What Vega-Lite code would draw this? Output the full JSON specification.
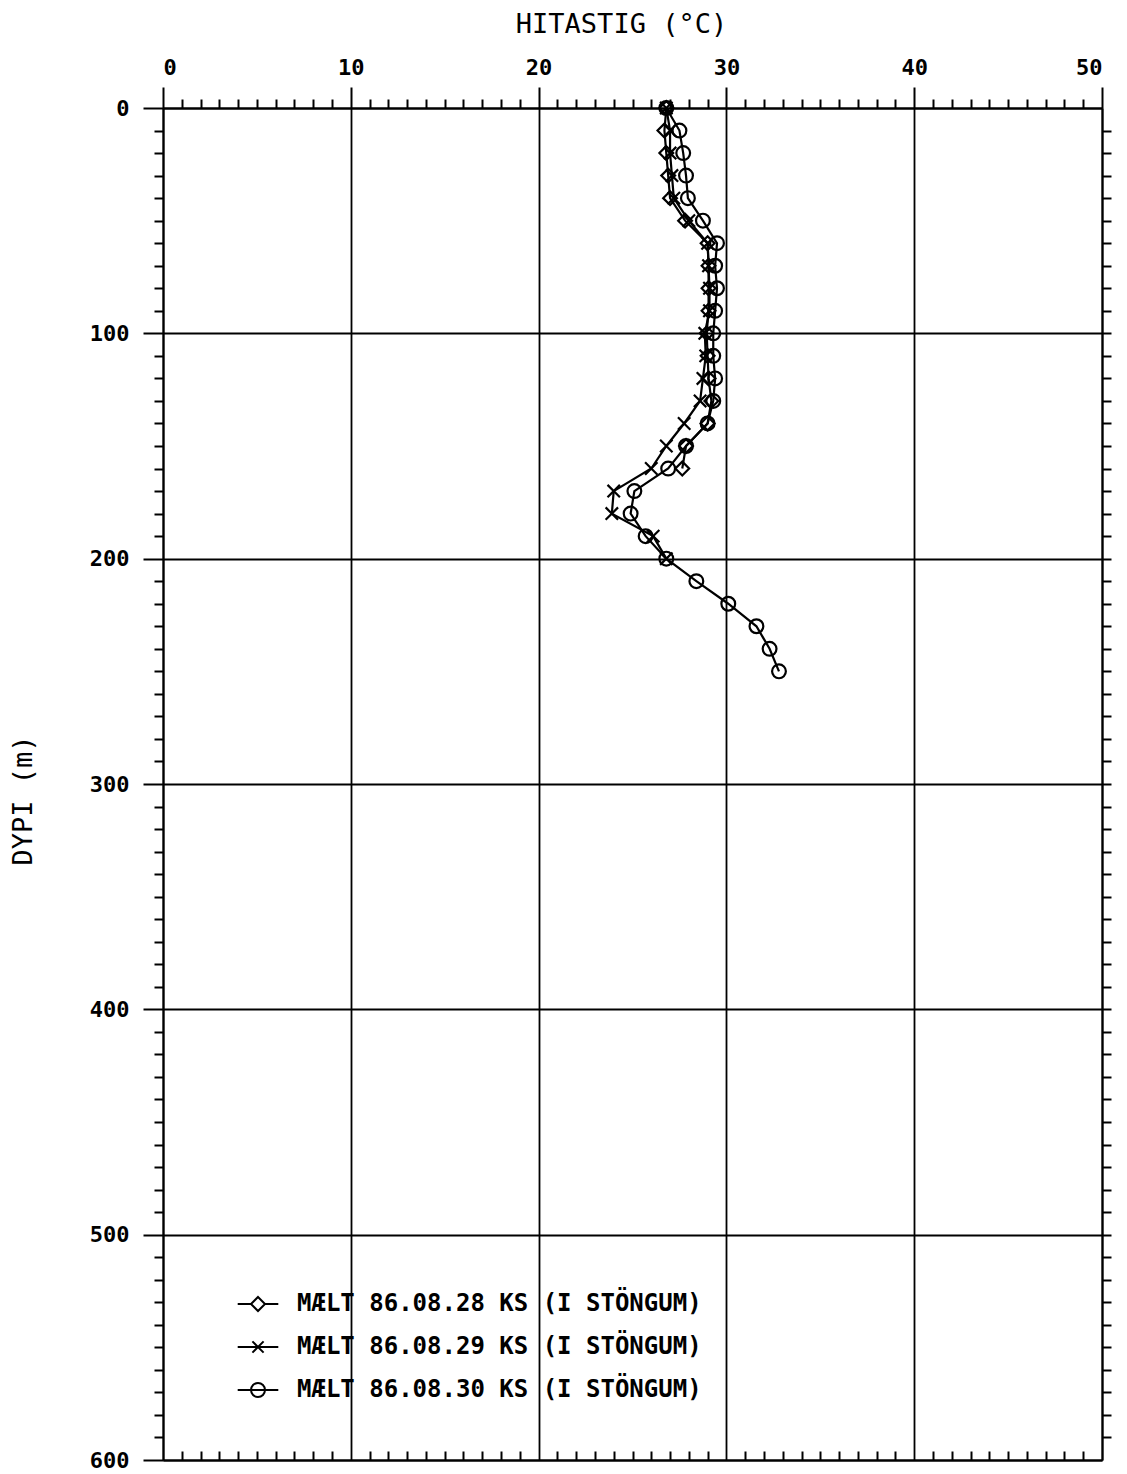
{
  "$schema": "https://vega.github.io/schema/vega-lite/v6.json",
  "width": 939,
  "height": 1352,
  "autosize": {"type": "none"},
  "padding": {"left": 163, "top": 108, "right": 25, "bottom": 14},
  "background": "white",
  "config": {
    "view": {"stroke": null},
    "axis": {"domainColor": "black", "tickColor": "black", "gridColor": "black", "labelColor": "black", "titleColor": "black", "domainWidth": 2, "tickWidth": 2, "gridWidth": 1.8, "gridOpacity": 1}
  },
  "data": {
    "values": [
      {"series": "MÆLT 86.08.28 KS (I STÖNGUM)", "depth": 0, "temp": 26.8},
      {"series": "MÆLT 86.08.28 KS (I STÖNGUM)", "depth": 10, "temp": 26.7},
      {"series": "MÆLT 86.08.28 KS (I STÖNGUM)", "depth": 20, "temp": 26.8},
      {"series": "MÆLT 86.08.28 KS (I STÖNGUM)", "depth": 30, "temp": 26.9},
      {"series": "MÆLT 86.08.28 KS (I STÖNGUM)", "depth": 40, "temp": 27.0},
      {"series": "MÆLT 86.08.28 KS (I STÖNGUM)", "depth": 50, "temp": 27.8},
      {"series": "MÆLT 86.08.28 KS (I STÖNGUM)", "depth": 60, "temp": 29.0},
      {"series": "MÆLT 86.08.28 KS (I STÖNGUM)", "depth": 70, "temp": 29.05},
      {"series": "MÆLT 86.08.28 KS (I STÖNGUM)", "depth": 80, "temp": 29.05},
      {"series": "MÆLT 86.08.28 KS (I STÖNGUM)", "depth": 90, "temp": 29.05},
      {"series": "MÆLT 86.08.28 KS (I STÖNGUM)", "depth": 100, "temp": 28.95},
      {"series": "MÆLT 86.08.28 KS (I STÖNGUM)", "depth": 110, "temp": 29.0},
      {"series": "MÆLT 86.08.28 KS (I STÖNGUM)", "depth": 120, "temp": 29.05},
      {"series": "MÆLT 86.08.28 KS (I STÖNGUM)", "depth": 130, "temp": 29.2},
      {"series": "MÆLT 86.08.28 KS (I STÖNGUM)", "depth": 140, "temp": 29.0},
      {"series": "MÆLT 86.08.28 KS (I STÖNGUM)", "depth": 150, "temp": 27.85},
      {"series": "MÆLT 86.08.28 KS (I STÖNGUM)", "depth": 160, "temp": 27.65},
      {"series": "MÆLT 86.08.29 KS (I STÖNGUM)", "depth": 0, "temp": 26.8},
      {"series": "MÆLT 86.08.29 KS (I STÖNGUM)", "depth": 10, "temp": 27.0},
      {"series": "MÆLT 86.08.29 KS (I STÖNGUM)", "depth": 20, "temp": 27.0},
      {"series": "MÆLT 86.08.29 KS (I STÖNGUM)", "depth": 30, "temp": 27.1},
      {"series": "MÆLT 86.08.29 KS (I STÖNGUM)", "depth": 40, "temp": 27.2},
      {"series": "MÆLT 86.08.29 KS (I STÖNGUM)", "depth": 50, "temp": 28.0},
      {"series": "MÆLT 86.08.29 KS (I STÖNGUM)", "depth": 60, "temp": 29.0},
      {"series": "MÆLT 86.08.29 KS (I STÖNGUM)", "depth": 70, "temp": 29.05},
      {"series": "MÆLT 86.08.29 KS (I STÖNGUM)", "depth": 80, "temp": 29.1},
      {"series": "MÆLT 86.08.29 KS (I STÖNGUM)", "depth": 90, "temp": 29.1},
      {"series": "MÆLT 86.08.29 KS (I STÖNGUM)", "depth": 100, "temp": 28.85},
      {"series": "MÆLT 86.08.29 KS (I STÖNGUM)", "depth": 110, "temp": 28.9},
      {"series": "MÆLT 86.08.29 KS (I STÖNGUM)", "depth": 120, "temp": 28.75},
      {"series": "MÆLT 86.08.29 KS (I STÖNGUM)", "depth": 130, "temp": 28.6},
      {"series": "MÆLT 86.08.29 KS (I STÖNGUM)", "depth": 140, "temp": 27.75},
      {"series": "MÆLT 86.08.29 KS (I STÖNGUM)", "depth": 150, "temp": 26.8},
      {"series": "MÆLT 86.08.29 KS (I STÖNGUM)", "depth": 160, "temp": 26.0},
      {"series": "MÆLT 86.08.29 KS (I STÖNGUM)", "depth": 170, "temp": 24.0},
      {"series": "MÆLT 86.08.29 KS (I STÖNGUM)", "depth": 180, "temp": 23.9},
      {"series": "MÆLT 86.08.29 KS (I STÖNGUM)", "depth": 190, "temp": 26.1},
      {"series": "MÆLT 86.08.29 KS (I STÖNGUM)", "depth": 200, "temp": 26.8},
      {"series": "MÆLT 86.08.30 KS (I STÖNGUM)", "depth": 0, "temp": 26.8},
      {"series": "MÆLT 86.08.30 KS (I STÖNGUM)", "depth": 10, "temp": 27.5},
      {"series": "MÆLT 86.08.30 KS (I STÖNGUM)", "depth": 20, "temp": 27.7},
      {"series": "MÆLT 86.08.30 KS (I STÖNGUM)", "depth": 30, "temp": 27.85},
      {"series": "MÆLT 86.08.30 KS (I STÖNGUM)", "depth": 40, "temp": 27.95},
      {"series": "MÆLT 86.08.30 KS (I STÖNGUM)", "depth": 50, "temp": 28.75},
      {"series": "MÆLT 86.08.30 KS (I STÖNGUM)", "depth": 60, "temp": 29.5},
      {"series": "MÆLT 86.08.30 KS (I STÖNGUM)", "depth": 70, "temp": 29.4},
      {"series": "MÆLT 86.08.30 KS (I STÖNGUM)", "depth": 80, "temp": 29.5},
      {"series": "MÆLT 86.08.30 KS (I STÖNGUM)", "depth": 90, "temp": 29.4},
      {"series": "MÆLT 86.08.30 KS (I STÖNGUM)", "depth": 100, "temp": 29.3},
      {"series": "MÆLT 86.08.30 KS (I STÖNGUM)", "depth": 110, "temp": 29.3},
      {"series": "MÆLT 86.08.30 KS (I STÖNGUM)", "depth": 120, "temp": 29.4},
      {"series": "MÆLT 86.08.30 KS (I STÖNGUM)", "depth": 130, "temp": 29.3},
      {"series": "MÆLT 86.08.30 KS (I STÖNGUM)", "depth": 140, "temp": 29.0},
      {"series": "MÆLT 86.08.30 KS (I STÖNGUM)", "depth": 150, "temp": 27.85},
      {"series": "MÆLT 86.08.30 KS (I STÖNGUM)", "depth": 160, "temp": 26.9},
      {"series": "MÆLT 86.08.30 KS (I STÖNGUM)", "depth": 170, "temp": 25.1},
      {"series": "MÆLT 86.08.30 KS (I STÖNGUM)", "depth": 180, "temp": 24.9},
      {"series": "MÆLT 86.08.30 KS (I STÖNGUM)", "depth": 190, "temp": 25.7},
      {"series": "MÆLT 86.08.30 KS (I STÖNGUM)", "depth": 200, "temp": 26.8},
      {"series": "MÆLT 86.08.30 KS (I STÖNGUM)", "depth": 210, "temp": 28.4},
      {"series": "MÆLT 86.08.30 KS (I STÖNGUM)", "depth": 220, "temp": 30.1},
      {"series": "MÆLT 86.08.30 KS (I STÖNGUM)", "depth": 230, "temp": 31.6},
      {"series": "MÆLT 86.08.30 KS (I STÖNGUM)", "depth": 240, "temp": 32.3},
      {"series": "MÆLT 86.08.30 KS (I STÖNGUM)", "depth": 250, "temp": 32.8}
    ]
  },
  "resolve": {"axis": {"x": "independent", "y": "independent"}, "scale": {"shape": "independent"}},
  "layer": [
    {
      "mark": {"type": "line", "color": "black", "strokeWidth": 2.2},
      "encoding": {
        "x": {"field": "temp", "type": "quantitative", "scale": {"domain": [0, 50], "nice": false, "zero": false},
          "axis": {"orient": "top", "values": [0, 10, 20, 30, 40, 50], "grid": true, "tickSize": 21, "labelPadding": 8,
            "labelFont": "DejaVu Sans Mono", "labelFontWeight": "bold", "labelFontSize": 22,
            "title": "HITASTIG (°C)", "titleFont": "DejaVu Sans Mono", "titleFontWeight": "normal", "titleFontSize": 27,
            "titleX": 458, "titleY": -76, "titleBaseline": "alphabetic"}},
        "y": {"field": "depth", "type": "quantitative", "scale": {"domain": [0, 600], "nice": false, "reverse": true},
          "axis": {"orient": "left", "values": [0, 100, 200, 300, 400, 500, 600], "grid": true, "tickSize": 20, "labelPadding": 14,
            "labelFont": "DejaVu Sans Mono", "labelFontWeight": "bold", "labelFontSize": 22,
            "title": "DYPI  (m)", "titleFont": "DejaVu Sans Mono", "titleFontWeight": "normal", "titleFontSize": 27,
            "titleX": -132, "titleY": 692, "titleAngle": -90, "titleBaseline": "alphabetic"}},
        "detail": {"field": "series"},
        "order": {"field": "depth", "type": "quantitative"}
      }
    },
    {
      "mark": {"type": "point", "filled": false, "color": "black", "strokeWidth": 2.2, "size": 190, "opacity": 1},
      "encoding": {
        "x": {"field": "temp", "type": "quantitative", "axis": null},
        "y": {"field": "depth", "type": "quantitative", "axis": null},
        "shape": {"field": "series", "type": "nominal",
          "scale": {"range": ["M0,-1L1,0L0,1L-1,0Z", "M-0.9,-0.9L0.9,0.9M-0.9,0.9L0.9,-0.9", "circle"]},
          "legend": null}
      }
    },
    {
      "transform": [{"filter": "datum.depth < 0"}],
      "mark": {"type": "point", "filled": false, "color": "black", "strokeWidth": 2},
      "encoding": {
        "x": {"field": "temp", "type": "quantitative",
          "axis": {"orient": "bottom", "values": [1,2,3,4,5,6,7,8,9,11,12,13,14,15,16,17,18,19,21,22,23,24,25,26,27,28,29,31,32,33,34,35,36,37,38,39,41,42,43,44,45,46,47,48,49], "tickSize": -9, "labels": false, "grid": false, "title": null, "domain": true}},
        "y": {"field": "depth", "type": "quantitative",
          "axis": {"orient": "right", "values": [10,20,30,40,50,60,70,80,90,100,110,120,130,140,150,160,170,180,190,200,210,220,230,240,250,260,270,280,290,300,310,320,330,340,350,360,370,380,390,400,410,420,430,440,450,460,470,480,490,500,510,520,530,540,550,560,570,580,590], "tickSize": 9, "labels": false, "grid": false, "title": null, "domain": true}},
        "shape": {"field": "series", "type": "nominal",
          "scale": {"domain": ["MÆLT 86.08.28 KS (I STÖNGUM)", "MÆLT 86.08.29 KS (I STÖNGUM)", "MÆLT 86.08.30 KS (I STÖNGUM)"],
            "range": ["M-2.9,0L-1,0M1,0L2.9,0M0,-1L1,0L0,1L-1,0Z", "M-2.9,0L2.9,0M-0.8,-0.8L0.8,0.8M-0.8,0.8L0.8,-0.8", "M-2.9,0L2.9,0M-1,0A1,1 0 1,0 1,0A1,1 0 1,0 -1,0Z"]},
          "legend": {"orient": "none", "legendX": 83, "legendY": 1184, "title": null, "padding": 0,
            "symbolSize": 196, "symbolStrokeColor": "black", "symbolFillColor": "transparent", "symbolStrokeWidth": 2, "symbolOpacity": 1,
            "labelFont": "DejaVu Sans Mono", "labelFontWeight": "bold", "labelFontSize": 24, "labelColor": "black", "labelLimit": 0,
            "labelOffset": 27, "rowPadding": 19}}
      }
    },
    {
      "transform": [{"filter": "datum.depth < 0"}],
      "mark": {"type": "point"},
      "encoding": {
        "x": {"field": "temp", "type": "quantitative",
          "axis": {"orient": "top", "values": [1,2,3,4,5,6,7,8,9,11,12,13,14,15,16,17,18,19,21,22,23,24,25,26,27,28,29,31,32,33,34,35,36,37,38,39,41,42,43,44,45,46,47,48,49], "tickSize": 9, "labels": false, "grid": false, "title": null, "domain": false}},
        "y": {"field": "depth", "type": "quantitative",
          "axis": {"orient": "left", "values": [10,20,30,40,50,60,70,80,90,110,120,130,140,150,160,170,180,190,210,220,230,240,250,260,270,280,290,310,320,330,340,350,360,370,380,390,410,420,430,440,450,460,470,480,490,510,520,530,540,550,560,570,580,590], "tickSize": 9, "labels": false, "grid": false, "title": null, "domain": false}}
      }
    }
  ]
}
